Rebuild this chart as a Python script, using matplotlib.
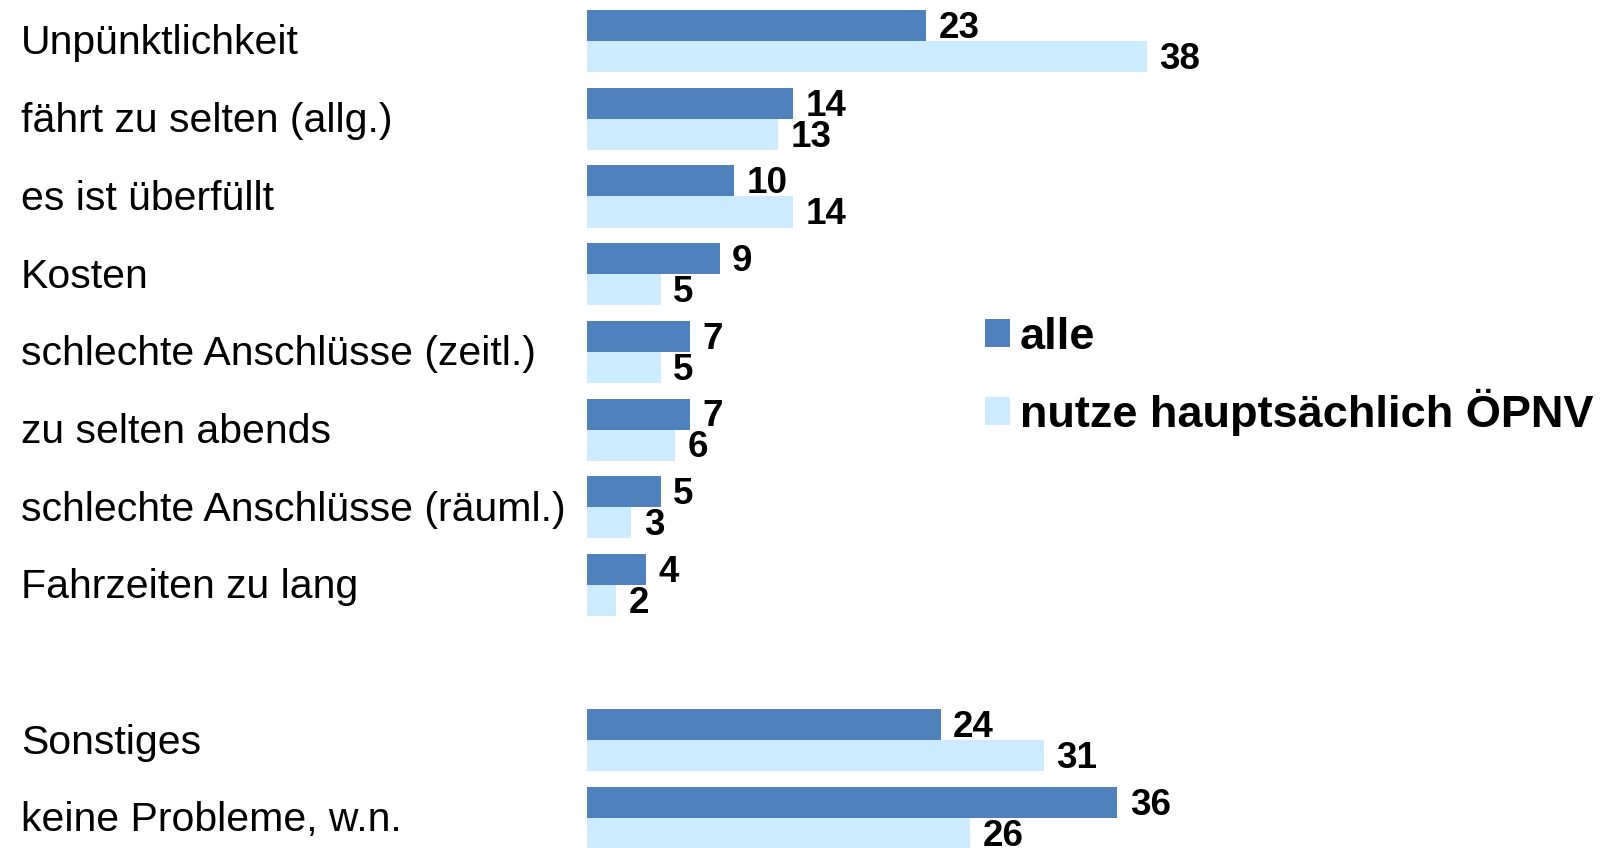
import numpy as np
import matplotlib.pyplot as plt
from matplotlib.transforms import blended_transform_factory

plt.rcParams['font.family'] = ['Liberation Sans', 'DejaVu Sans']

categories = ['Unpünktlichkeit', 'fährt zu selten (allg.)', 'es ist überfüllt', 'Kosten',
              'schlechte Anschlüsse (zeitl.)', 'zu selten abends',
              'schlechte Anschlüsse (räuml.)', 'Fahrzeiten zu lang',
              'Sonstiges', 'keine Probleme, w.n.']
alle = [23, 14, 10, 9, 7, 7, 5, 4, 24, 36]
oepnv = [38, 13, 14, 5, 5, 6, 3, 2, 31, 26]
series_names = ['alle', 'nutze hauptsächlich ÖPNV']

dark = '#4F81BD'
light = '#CCEBFF'

W, H = 1601, 848
fig = plt.figure(figsize=(W / 100, H / 100), dpi=100)

x0 = 587
px_per_unit = 14.73
slot = 77.7
ax = fig.add_axes([x0 / W, 0, 1 - x0 / W, 1])

# gap of one slot before the last two rows
pos = np.array(list(range(8)) + [9, 10], dtype=float)
h = 0.4
ax.barh(pos - h / 2, alle, height=h, color=dark, label=series_names[0])
ax.barh(pos + h / 2, oepnv, height=h, color=light, label=series_names[1])

ax.set_xlim(0, (W - x0) / px_per_unit)
top = -0.4 - 10 / slot
ax.set_ylim(top + H / slot, top)
ax.axis('off')

for p, a, b in zip(pos, alle, oepnv):
    ax.annotate(str(a), (a, p - h / 2), xytext=(9, -2), textcoords='offset points',
                va='center', ha='left', fontsize=26.5, fontweight='bold')
    ax.annotate(str(b), (b, p + h / 2), xytext=(9, -2), textcoords='offset points',
                va='center', ha='left', fontsize=26.5, fontweight='bold')

tr = blended_transform_factory(fig.transFigure, ax.transData)
for p, c in zip(pos, categories):
    ax.text(21 / W, p + 0.03, c, transform=tr, ha='left', va='center', fontsize=29.5)

leg = ax.legend(loc='upper left', bbox_to_anchor=(985 / W, 1 - 317 / H),
                bbox_transform=fig.transFigure, frameon=False,
                prop={'size': 32.5, 'weight': 'bold'}, borderpad=0, borderaxespad=0,
                handlelength=0.55, handleheight=0.55, handletextpad=0.22,
                labelspacing=0.68)

plt.savefig('out.png', dpi=100)
